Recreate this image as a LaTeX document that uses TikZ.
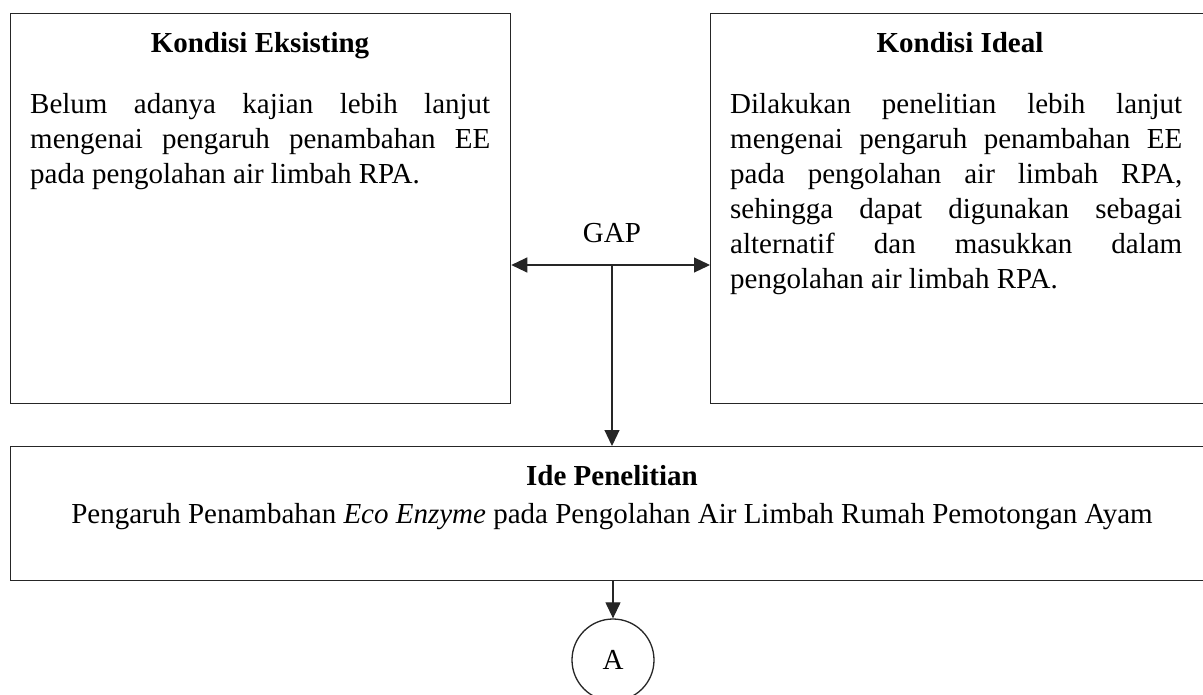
\documentclass[tikz,border=0pt]{standalone}
\usepackage{fontspec}
\setmainfont{Liberation Serif}
\usetikzlibrary{arrows.meta}
\begin{document}
\begin{tikzpicture}[x=1pt,y=-1pt,
  box/.style={draw=black!85, line width=1.3pt, rectangle, inner sep=0pt},
  para/.style={inner sep=0pt, anchor=north west, text width=#1, align=justify, font=\fontsize{29}{35}\selectfont},
  ttl/.style={inner sep=0pt, anchor=base, font=\fontsize{29}{35}\selectfont\bfseries},
  txt/.style={inner sep=0pt, anchor=base, font=\fontsize{29}{35}\selectfont},
  conn/.style={line width=1.2pt, draw=black!85, -{Triangle[length=16pt,width=15pt]}},
  conn2/.style={line width=1.2pt, draw=black!85, {Triangle[length=16pt,width=15pt]}-{Triangle[length=16pt,width=15pt]}}
]
\useasboundingbox (0,0) rectangle (1203,694);
\clip (0,0) rectangle (1203,694);
\fill[white] (0,0) rectangle (1203,694);
% boxes
\node[box, anchor=north west, minimum width=500pt, minimum height=390pt] (ex) at (10,13) {};
\node[box, anchor=north west, minimum width=502pt, minimum height=390pt] (id) at (710,13) {};
\node[box, anchor=north west, minimum width=1202pt, minimum height=134pt] (rs) at (10,446) {};
% texts
\node[ttl] (ext) at (260,52) {Kondisi Eksisting};
\node[ttl] (idt) at (960,52) {Kondisi Ideal};
\node[para=460pt] (exp) at (30,93) {Belum adanya kajian lebih lanjut\linebreak mengenai pengaruh penambahan EE\linebreak pada pengolahan air limbah RPA.};
\node[para=452pt] (idp) at (730,93) {Dilakukan penelitian lebih lanjut\linebreak mengenai pengaruh penambahan EE\linebreak pada pengolahan air limbah RPA,\linebreak sehingga dapat digunakan sebagai\linebreak alternatif dan masukkan dalam\linebreak pengolahan air limbah RPA.};
\node[txt] (gap) at (612,242) {GAP};
\node[ttl] (rst) at (612,485) {Ide Penelitian};
\node[txt] (rsp) at (612,523) {Pengaruh Penambahan \textit{Eco Enzyme} pada Pengolahan Air Limbah Rumah Pemotongan Ayam};
\node[draw=black!85, line width=1.3pt, circle, minimum size=82pt, inner sep=0pt, font=\fontsize{29}{35}\selectfont] (a) at (613,660) {A};
% connectors
\coordinate (g) at (612,265);
\draw[conn2] (ex.east |- g) -- (id.west |- g);
\draw[conn] (g) -- (rs.north -| g);
\draw[conn] (rs.south -| a) -- (a.north);
\end{tikzpicture}
\end{document}
